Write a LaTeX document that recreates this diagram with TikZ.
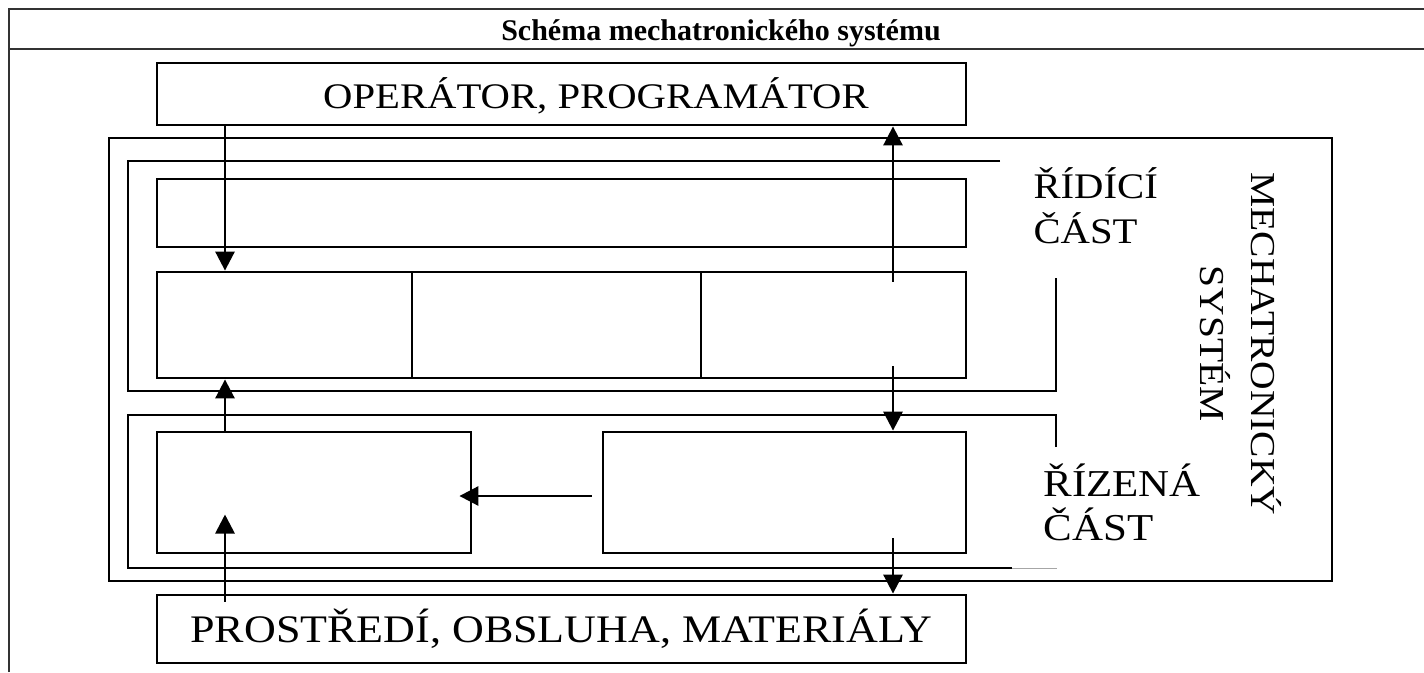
\documentclass[tikz,border=0pt]{standalone}
\usepackage{fontspec}
\setmainfont[FakeStretch=1.13]{Liberation Serif}
\newfontfamily\nadpisfont{Liberation Serif}
\usetikzlibrary{arrows.meta,calc}

\tikzset{
  blok/.style={draw,line width=2.8pt,inner sep=0pt},
  ramec/.style={line width=2.8pt},
  sipka/.style={line width=2.8pt,-{Triangle[length=19pt,width=19pt]}},
  popis/.style={font=\fontsize{36}{45}\selectfont},
}

\begin{document}
\begin{tikzpicture}[x=1pt,y=-1pt]
\useasboundingbox (0,0) rectangle (1424,672);
% tabulka s nadpisem
\draw[line width=2.8pt,black!80] (9,672)--(9,9)--(1424,9);
\draw[line width=2.8pt,black!80] (9,49)--(1424,49);
\node[font=\nadpisfont\fontsize{30}{32}\selectfont\bfseries,anchor=base] (nadpis) at (721,40) {Schéma mechatronického systému};

\node[blok,minimum width=809pt,minimum height=62pt] (oper) at (561.5,94) {};
\node[popis,anchor=base] (operlbl) at (596,108) {OPERÁTOR, PROGRAMÁTOR};

\node[blok,minimum width=1223pt,minimum height=443pt] (mech) at (720.5,359.5) {};

% ridici cast
\draw[ramec] (1000,161)--(128,161)--(128,391)--(1056,391)--(1056,278);
\node[blok,minimum width=809pt,minimum height=68pt] (ridblok) at (561.5,213) {};
\node[blok,minimum width=255pt,minimum height=106pt] (c1) at (284.5,325) {};
\node[blok,minimum width=289pt,minimum height=106pt] (c2) at (556.5,325) {};
\node[blok,minimum width=265pt,minimum height=106pt] (c3) at (833.5,325) {};

% rizena cast
\draw[ramec] (1056,447)--(1056,415)--(128,415)--(128,568)--(1012,568);
\draw[line width=1pt,black!35] (1012,568)--(1057,568);
\node[blok,minimum width=314pt,minimum height=121pt] (rizL) at (314,492.5) {};
\node[blok,minimum width=363pt,minimum height=121pt] (rizP) at (784.5,492.5) {};

\node[blok,minimum width=809pt,minimum height=68pt,font=\fontsize{39}{45}\selectfont] (prost) at (561.5,629) {PROSTŘEDÍ, OBSLUHA, MATERIÁLY};

\coordinate (lx) at (225,0);
\coordinate (rx) at (893,0);

\draw[sipka] (oper.south -| lx) -- (c1.north -| lx);
\draw[sipka] ($(c3.north -| rx)+(0,11)$) -- (oper.south -| rx);
\draw[sipka] (rizL.north -| lx) -- (c1.south -| lx);
\draw[sipka] ($(c3.south -| rx)+(0,-13)$) -- (rizP.north -| rx);
\draw[sipka] ($(rizP.west)+(-10,3.5)$) -- ($(rizL.east)+(-13,3.5)$);
\draw[sipka] ($(prost.north -| lx)+(0,8)$) -- ($(rizL.center -| lx)+(0,22)$);
\draw[sipka] ($(rizP.south -| rx)+(0,-16)$) -- (prost.north -| rx);

\node[popis,align=left,anchor=base west] (ridlbl) at (1030,243) {ŘÍDÍCÍ\\ČÁST};
\node[font=\fontsize{38}{44}\selectfont,align=left,anchor=base west] (rizlbl) at (1040,540) {ŘÍZENÁ\\ČÁST};
\node[font=\fontsize{35}{51}\selectfont,align=center,rotate=-90] (mechlbl) at (1241,344) {MECHATRONICKÝ\\SYSTÉM};
\end{tikzpicture}
\end{document}
